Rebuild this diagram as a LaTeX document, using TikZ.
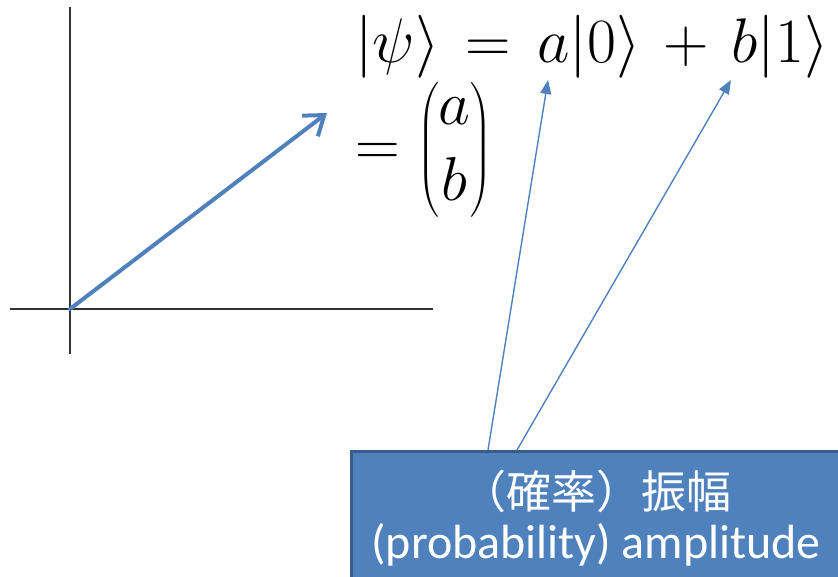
\RequirePackage{fix-cm}
\documentclass[tikz,border=0pt]{standalone}
\usepackage[no-math]{fontspec}
\setmainfont{Carlito}
\newfontfamily\cjk{Noto Sans CJK JP}
\usepackage{amsmath}
\usetikzlibrary{arrows.meta}
\definecolor{accent}{HTML}{4F81BD}
\definecolor{accentdark}{HTML}{385D8A}
\tikzset{
  axis/.style={line width=1.3pt, black!80},
  pointer/.style={accent, line width=1.4pt, -{Triangle[length=14pt, width=11pt]}},
  ampbox/.style={draw=accentdark, fill=accent, line width=2.5pt, text=white,
    minimum width=490pt, minimum height=134pt, align=center, inner sep=0pt,
    font=\fontsize{48}{53}\selectfont}
}
\begin{document}
\begin{tikzpicture}[x=1pt, y=-1pt]
  \useasboundingbox (0,0) rectangle (838,576);
  % axes and state vector
  \coordinate (origin) at (70,309);
  \coordinate (tip) at (327,113);
  \draw[axis] (70,7) -- (70,354);
  \draw[axis] (10,309) -- (433,309);
  \draw[accent, line width=4pt, line cap=round,
        -{Straight Barb[length=18pt, width=26pt, line width=4pt]}] (origin) -- (tip);
  % state as a sum
  \node[anchor=base west, inner sep=0pt] (ket) at (355,62)
    {\fontsize{63}{72}\selectfont \thickmuskip=7.5mu \medmuskip=6.5mu
     $\lvert\psi\rangle = a\lvert 0\rangle + b\lvert 1\rangle$};
  \node[anchor=west, inner sep=0pt] (col) at (355,150)
    {\fontsize{62}{62}\selectfont
     $= \begin{pmatrix} a\\[14pt] b \end{pmatrix}$};
  \coordinate (coefa) at (548,80);
  \coordinate (coefb) at (731,80);
  % amplitude label
  \node[ampbox, anchor=north west] (amp) at (350,450)
    {{\cjk\fontsize{45}{53}\selectfont （確率）振幅}\\[-3pt](probability) amplitude};
  \draw[pointer] ([xshift=138pt]amp.north west) -- (coefa);
  \draw[pointer] ([xshift=167pt]amp.north west) -- (coefb);
\end{tikzpicture}
\end{document}
